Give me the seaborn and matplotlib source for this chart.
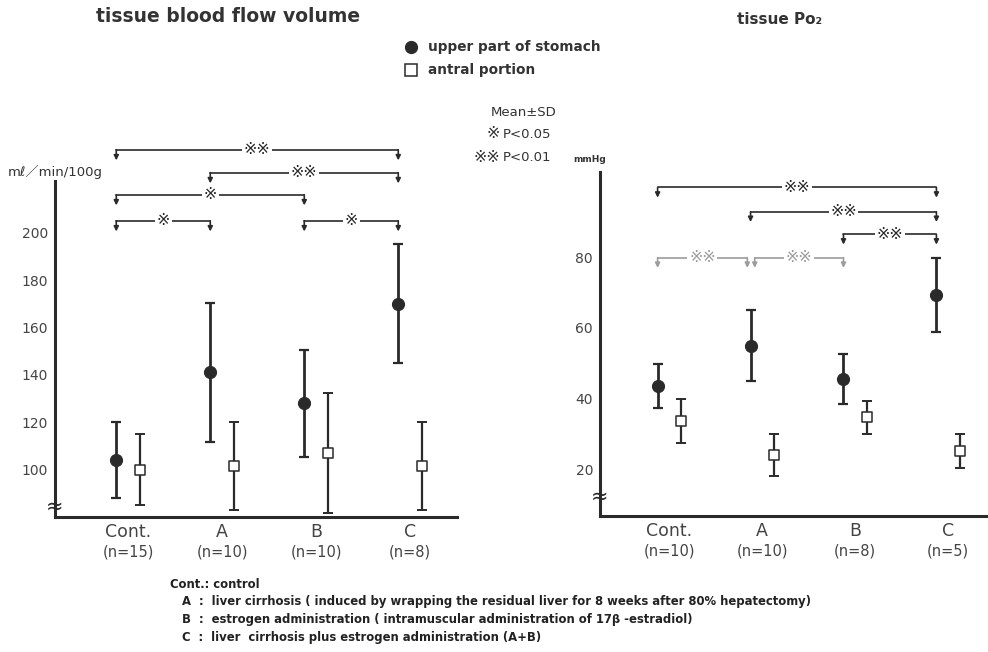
import matplotlib
matplotlib.use("Agg")
import matplotlib.pyplot as plt
from matplotlib.lines import Line2D
import numpy as np
import pandas as pd
import seaborn as sns

# ---- data -------------------------------------------------------------
groups = ["Cont.", "A", "B", "C"]
n_flow = [15, 10, 10, 8]
n_po2 = [10, 10, 8, 5]

# tissue blood flow volume (ml/min/100g), mean and SD
flow_upper_mean = [104, 141, 128, 170]
flow_upper_sd = [16, 29.5, 22.5, 25]
flow_antral_mean = [100, 101.5, 107, 101.5]
flow_antral_sd = [15, 18.5, 25.5, 18.5]

# tissue Po2 (mmHg), mean and SD
po2_upper_mean = [43.5, 55, 45.5, 69.2]
po2_upper_sd = [6.2, 10, 7, 10.5]
po2_antral_mean = [33.6, 24, 34.7, 25.2]
po2_antral_sd = [6.3, 6, 4.7, 4.8]

flow_ticks = [100, 120, 140, 160, 180, 200]
po2_ticks = [20, 40, 60, 80]

# significant pairs (group index, group index, marker)
flow_sig = [(0, 3, "※※"), (1, 3, "※※"), (0, 2, "※"), (0, 1, "※"), (2, 3, "※")]
po2_sig = [(0, 3, "※※"), (1, 3, "※※"), (2, 3, "※※"), (0, 1, "※※"), (1, 2, "※※")]

sig_key = [("※", "P<0.05"), ("※※", "P<0.01")]

footnotes = [
    "Cont.: control",
    "A  :  liver cirrhosis ( induced by wrapping the residual liver for 8 weeks after 80% hepatectomy)",
    "B  :  estrogen administration ( intramuscular administration of 17β -estradiol)",
    "C  :  liver  cirrhosis plus estrogen administration (A+B)",
]

# ---- style --------------------------------------------------------------
sns.set_theme(style="white")
plt.rcParams["font.family"] = ["DejaVu Sans", "Noto Sans CJK JP"]
INK = "#2a2a2a"
GREY = "#9c9c9c"
TXT = "#333333"
W, H = 988, 652

fig = plt.figure(figsize=(W / 100, H / 100), dpi=100)


def box(x0, x1, ytop, ybot):
    return [x0 / W, 1 - ybot / H, (x1 - x0) / W, (ybot - ytop) / H]


OFF = 0.125


def draw_panel(ax, up_m, up_sd, an_m, an_sd, n, ticks, ylim, spine_top, xlim, brk):
    x = np.arange(len(groups))
    ax.errorbar(x - OFF, up_m, yerr=up_sd, fmt="none", ecolor=INK,
                elinewidth=2.0, capsize=3.5, capthick=1.6, zorder=2)
    ax.errorbar(x + OFF, an_m, yerr=an_sd, fmt="none", ecolor=INK,
                elinewidth=1.6, capsize=3.5, capthick=1.4, zorder=2)
    up = pd.DataFrame({"pos": x - OFF, "val": up_m})
    an = pd.DataFrame({"pos": x + OFF, "val": an_m})
    sns.scatterplot(data=up, x="pos", y="val", ax=ax, marker="o", s=75,
                    color=INK, edgecolor=INK, linewidth=0.8, zorder=3)
    sns.scatterplot(data=an, x="pos", y="val", ax=ax, marker="s", s=62,
                    color="white", edgecolor=INK, linewidth=1.1, zorder=3)
    ax.set_xlim(*xlim)
    ax.set_ylim(*ylim)
    ax.set_xlabel("")
    ax.set_ylabel("")
    for s in ("top", "right"):
        ax.spines[s].set_visible(False)
    for s in ("left", "bottom"):
        ax.spines[s].set_linewidth(2.2)
        ax.spines[s].set_color(INK)
    ax.spines["left"].set_bounds(ylim[0], spine_top)
    ax.set_yticks(ticks)
    ax.set_yticklabels([str(t) for t in ticks], fontsize=10, color="#444444")
    ax.set_xticks(x)
    ax.set_xticklabels(groups, fontsize=12.5, color="#444444")
    ax.tick_params(axis="y", direction="out", length=4, width=1.2, color=INK, pad=1)
    ax.tick_params(axis="x", direction="in", length=5, width=1.2, color=INK, pad=4)
    for i, k in enumerate(n):
        ax.annotate(f"(n={k})", xy=(i, 0), xycoords=("data", "axes fraction"),
                    xytext=(0, -25), textcoords="offset points",
                    ha="center", va="center", fontsize=10.5, color="#444444")
    ax.text(xlim[0], brk, "≈", ha="center", va="center", fontsize=15,
            color=INK, clip_on=False, zorder=5)
    ax.grid(False)


def draw_brackets(ax, sig, heights, drop, colors, ends):
    for (i, j, lab), h, c, (di, dj) in zip(sig, heights, colors, ends):
        x1 = i - OFF + di
        x2 = j - OFF + dj
        ax.plot([x1, x2], [h, h], color=c, lw=1.2, solid_capstyle="round",
                clip_on=False, zorder=4)
        for xx in (x1, x2):
            ax.annotate("", xy=(xx, h - drop), xytext=(xx, h),
                        arrowprops=dict(arrowstyle="-|>", color=c, lw=1.2,
                                        mutation_scale=7, shrinkA=0, shrinkB=0),
                        annotation_clip=False, zorder=4)
        ax.text((x1 + x2) / 2, h, lab, ha="center", va="center", fontsize=11.5,
                color=c, zorder=5,
                bbox=dict(boxstyle="square,pad=0.1", fc="white", ec="none"))


# ---- left panel: tissue blood flow volume ------------------------------
ax1 = fig.add_axes(box(55, 457, 140, 517))
draw_panel(ax1, flow_upper_mean, flow_upper_sd, flow_antral_mean, flow_antral_sd,
           n_flow, flow_ticks, (80.0, 239.1), 222, (-0.777, 3.5), 84.5)
draw_brackets(ax1, flow_sig, [235, 225.3, 216, 205, 205], 4.5,
              [INK] * 5, [(0, 0)] * 5)

# ---- right panel: tissue Po2 --------------------------------------------
ax2 = fig.add_axes(box(600, 988, 170, 516))
draw_panel(ax2, po2_upper_mean, po2_upper_sd, po2_antral_mean, po2_antral_sd,
           n_po2, po2_ticks, (6.68, 104.75), 104.3, (-0.745, 3.43), 12.1)
draw_brackets(ax2, po2_sig, [99.8, 92.9, 86.5, 79.9, 79.9], 2.9,
              [INK, INK, INK, GREY, GREY],
              [(0, 0), (0, 0), (0, 0), (0, -0.035), (0.045, 0)])

# ---- titles, units, legend ----------------------------------------------
fig.text(228 / W, 1 - 16 / H, "tissue blood flow volume", ha="center", va="center",
         fontsize=13.5, fontweight="bold", color=TXT)
fig.text(780 / W, 1 - 19 / H, "tissue Po₂", ha="center", va="center",
         fontsize=11, fontweight="bold", color=TXT)
fig.text(8 / W, 1 - 172 / H, "mℓ／min/100g", ha="left", va="center",
         fontsize=9.5, color=TXT)
fig.text(573 / W, 1 - 160 / H, "mmHg", ha="left", va="center",
         fontsize=6.5, fontweight="bold", color=TXT)

fig.add_artist(Line2D([411 / W], [1 - 47 / H], marker="o", markersize=8.5,
                      color=INK, transform=fig.transFigure))
fig.add_artist(Line2D([411 / W], [1 - 70 / H], marker="s", markersize=8,
                      markerfacecolor="white", markeredgecolor=INK,
                      markeredgewidth=1.1, transform=fig.transFigure))
fig.text(428 / W, 1 - 47 / H, "upper part of stomach", ha="left", va="center",
         fontsize=9.8, fontweight="bold", color=TXT)
fig.text(428 / W, 1 - 70 / H, "antral portion", ha="left", va="center",
         fontsize=9.8, fontweight="bold", color=TXT)

fig.text(556 / W, 1 - 112 / H, "Mean±SD", ha="right", va="center",
         fontsize=9.5, color=TXT)
for k, (stars, ptxt) in enumerate(sig_key):
    yy = 1 - (134 + 23 * k) / H
    fig.text(500 / W, yy, stars, ha="right", va="center", fontsize=11.5, color=TXT)
    fig.text(503 / W, yy, ptxt, ha="left", va="center", fontsize=9.5, color=TXT)

# ---- footnotes ----------------------------------------------------------
fig.text(170 / W, 1 - 584 / H, footnotes[0], ha="left", va="center",
         fontsize=8.4, fontweight="bold", color="#222222")
for k, line in enumerate(footnotes[1:]):
    fig.text(182 / W, 1 - (602 + 18 * k) / H, line, ha="left", va="center",
             fontsize=8.4, fontweight="bold", color="#222222")

fig.savefig("out.png", dpi=100, facecolor="white")
